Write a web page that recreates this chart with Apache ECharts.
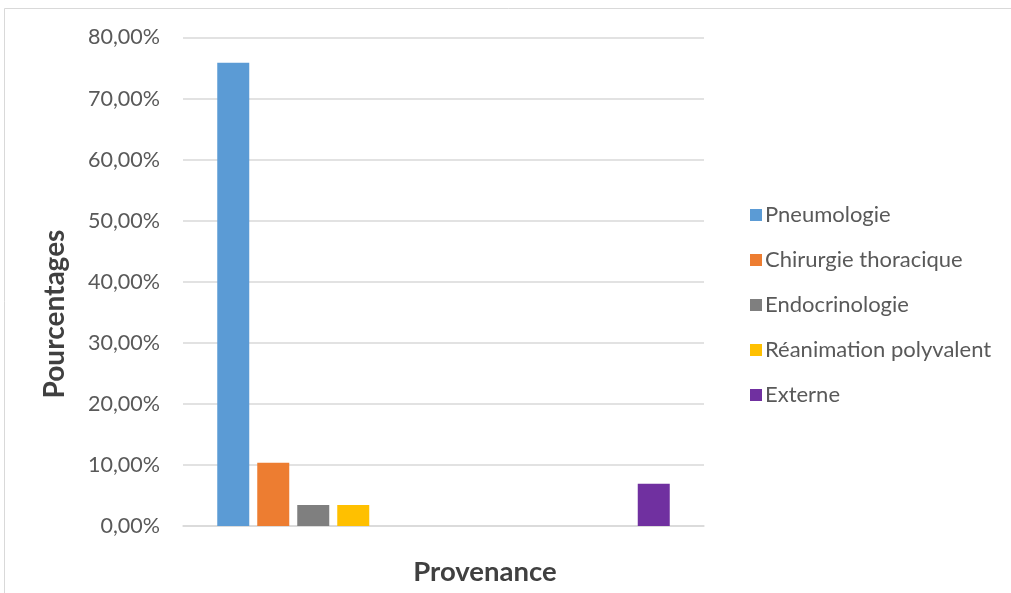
<!DOCTYPE html>
<html>
<head>
<meta charset="utf-8">
<script src="https://cdn.jsdelivr.net/npm/echarts@6/dist/echarts.min.js"></script>
<style>
  html, body { margin: 0; padding: 0; background: #fff; }
  #chart { width: 1011px; height: 593px; }
</style>
</head>
<body>
<div id="chart"></div>
<script>
// Two (unlabelled) groups along the horizontal axis
const categories = ['', ''];
// Share of patients by origin, in percent
const pneumologie = [75.86, 0];
const chirurgieThoracique = [10.34, 0];
const endocrinologie = [3.45, 0];
const reanimation = [3.45, 0];
const externe = [0, 6.90];
const yTicks = { min: 0, max: 80, interval: 10 };

const seriesDefs = [
  { name: 'Pneumologie', data: pneumologie, color: '#5b9bd5' },
  { name: 'Chirurgie thoracique', data: chirurgieThoracique, color: '#ed7d31' },
  { name: 'Endocrinologie', data: endocrinologie, color: '#7f7f7f' },
  { name: 'Réanimation polyvalent', data: reanimation, color: '#ffc000' },
  { name: 'Externe', data: externe, color: '#7030a0' }
];

const font = 'Lato, "Open Sans", "Liberation Sans", sans-serif';
const chart = echarts.init(document.getElementById('chart'), null, { renderer: 'canvas' });

chart.setOption({
  animation: false,
  textStyle: { fontFamily: font },
  grid: { left: 183, right: 307, top: 37.5, bottom: 67, containLabel: false },
  xAxis: {
    type: 'category',
    data: categories,
    axisLine: { show: true, lineStyle: { color: '#d9d9d9', width: 1.5 } },
    axisTick: { show: false },
    axisLabel: { show: false }
  },
  yAxis: {
    type: 'value',
    min: yTicks.min,
    max: yTicks.max,
    interval: yTicks.interval,
    axisLine: { show: false },
    axisTick: { show: false },
    splitLine: { lineStyle: { color: '#d9d9d9', width: 1.5 } },
    axisLabel: {
      color: '#595959',
      fontSize: 21.5,
      fontFamily: font,
      margin: 23,
      formatter: v => v.toFixed(2).replace('.', ',') + '%'
    }
  },
  legend: {
    orient: 'vertical',
    left: 745,
    top: 199,
    itemWidth: 12,
    itemHeight: 12,
    itemGap: 23,
    icon: 'rect',
    textStyle: { color: '#595959', fontSize: 22, fontFamily: font, height: 22, padding: [0, 0, 0, -2] },
    data: seriesDefs.map(s => s.name)
  },
  graphic: [
    {
      type: 'rect',
      silent: true,
      shape: { x: 4.5, y: 8.5, width: 1030, height: 620 },
      style: { fill: 'none', stroke: '#d9d9d9', lineWidth: 1 }
    },
    {
      type: 'text',
      x: 55, y: 314,
      rotation: Math.PI / 2,
      style: {
        text: 'Pourcentages',
        fill: '#404040',
        font: 'bold 28px ' + font,
        textAlign: 'center',
        textVerticalAlign: 'middle'
      }
    },
    {
      type: 'text',
      x: 485, y: 572,
      style: {
        text: 'Provenance',
        fill: '#404040',
        font: 'bold 27.5px ' + font,
        textAlign: 'center',
        textVerticalAlign: 'middle'
      }
    }
  ],
  series: seriesDefs.map(s => ({
    type: 'bar',
    name: s.name,
    data: s.data,
    barWidth: 32,
    barGap: '25%',
    itemStyle: { color: s.color }
  }))
});
</script>
</body>
</html>
